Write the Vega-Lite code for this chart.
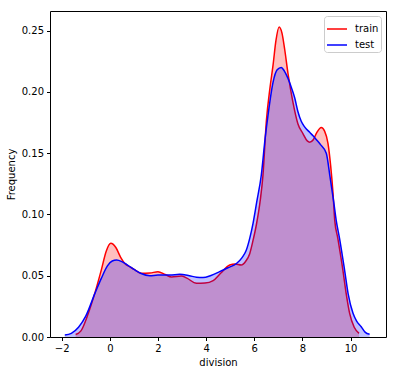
{
  "$schema": "https://vega.github.io/schema/vega-lite/v6.json",
  "width": 336,
  "height": 326,
  "autosize": "none",
  "padding": {"left": 50, "top": 11, "right": 9, "bottom": 38},
  "config": {
    "font": "DejaVu Sans",
    "view": {"stroke": "#000", "strokeWidth": 1},
    "axis": {
      "grid": false,
      "domain": false,
      "labelFontSize": 10,
      "labelColor": "#000",
      "tickColor": "#000",
      "tickSize": 3.5,
      "labelPadding": 3,
      "titleFontSize": 10,
      "titleFontWeight": "normal",
      "titleColor": "#000"
    },
    "legend": {
      "labelFontSize": 10,
      "labelColor": "#000"
    }
  },
  "datasets": {
    "kde": [
      {"series": "train", "x": -1.42, "y": 0.002},
      {"series": "train", "x": -1.2, "y": 0.005},
      {"series": "train", "x": -0.9, "y": 0.019},
      {"series": "train", "x": -0.62, "y": 0.036},
      {"series": "train", "x": -0.35, "y": 0.055},
      {"series": "train", "x": -0.15, "y": 0.07},
      {"series": "train", "x": 0.04, "y": 0.0764},
      {"series": "train", "x": 0.25, "y": 0.073},
      {"series": "train", "x": 0.45, "y": 0.065},
      {"series": "train", "x": 0.62, "y": 0.06},
      {"series": "train", "x": 0.85, "y": 0.057},
      {"series": "train", "x": 1.04, "y": 0.0547},
      {"series": "train", "x": 1.3, "y": 0.052},
      {"series": "train", "x": 1.66, "y": 0.0522},
      {"series": "train", "x": 2.0, "y": 0.0533},
      {"series": "train", "x": 2.3, "y": 0.051},
      {"series": "train", "x": 2.56, "y": 0.049},
      {"series": "train", "x": 2.97, "y": 0.0497},
      {"series": "train", "x": 3.2, "y": 0.048},
      {"series": "train", "x": 3.6, "y": 0.0438},
      {"series": "train", "x": 3.95, "y": 0.044},
      {"series": "train", "x": 4.29, "y": 0.046},
      {"series": "train", "x": 4.6, "y": 0.052},
      {"series": "train", "x": 4.98, "y": 0.0587},
      {"series": "train", "x": 5.2, "y": 0.0595},
      {"series": "train", "x": 5.46, "y": 0.0587},
      {"series": "train", "x": 5.65, "y": 0.062},
      {"series": "train", "x": 5.81, "y": 0.068},
      {"series": "train", "x": 5.95, "y": 0.079},
      {"series": "train", "x": 6.09, "y": 0.092},
      {"series": "train", "x": 6.25, "y": 0.112},
      {"series": "train", "x": 6.36, "y": 0.132},
      {"series": "train", "x": 6.5, "y": 0.176},
      {"series": "train", "x": 6.65, "y": 0.203},
      {"series": "train", "x": 6.78, "y": 0.222},
      {"series": "train", "x": 6.9, "y": 0.242},
      {"series": "train", "x": 7.03, "y": 0.253},
      {"series": "train", "x": 7.15, "y": 0.248},
      {"series": "train", "x": 7.26, "y": 0.235},
      {"series": "train", "x": 7.4, "y": 0.215},
      {"series": "train", "x": 7.6, "y": 0.192},
      {"series": "train", "x": 7.81, "y": 0.174},
      {"series": "train", "x": 8.02, "y": 0.166},
      {"series": "train", "x": 8.2, "y": 0.16},
      {"series": "train", "x": 8.3, "y": 0.159},
      {"series": "train", "x": 8.45, "y": 0.161},
      {"series": "train", "x": 8.6, "y": 0.167},
      {"series": "train", "x": 8.78, "y": 0.171},
      {"series": "train", "x": 8.92, "y": 0.168},
      {"series": "train", "x": 9.06, "y": 0.158},
      {"series": "train", "x": 9.17, "y": 0.14},
      {"series": "train", "x": 9.27, "y": 0.117},
      {"series": "train", "x": 9.34, "y": 0.0954},
      {"series": "train", "x": 9.47, "y": 0.0805},
      {"series": "train", "x": 9.68, "y": 0.0546},
      {"series": "train", "x": 9.82, "y": 0.035},
      {"series": "train", "x": 9.96, "y": 0.0193},
      {"series": "train", "x": 10.15, "y": 0.008},
      {"series": "train", "x": 10.35, "y": 0.003},
      {"series": "test", "x": -1.87, "y": 0.0016},
      {"series": "test", "x": -1.6, "y": 0.003},
      {"series": "test", "x": -1.3, "y": 0.008},
      {"series": "test", "x": -1.0, "y": 0.017},
      {"series": "test", "x": -0.62, "y": 0.0356},
      {"series": "test", "x": -0.35, "y": 0.048},
      {"series": "test", "x": -0.1, "y": 0.058},
      {"series": "test", "x": 0.1, "y": 0.062},
      {"series": "test", "x": 0.28, "y": 0.0628},
      {"series": "test", "x": 0.5, "y": 0.0615},
      {"series": "test", "x": 0.75, "y": 0.0585},
      {"series": "test", "x": 1.04, "y": 0.0547},
      {"series": "test", "x": 1.3, "y": 0.0518},
      {"series": "test", "x": 1.66, "y": 0.05},
      {"series": "test", "x": 2.0, "y": 0.0505},
      {"series": "test", "x": 2.5, "y": 0.0505},
      {"series": "test", "x": 2.9, "y": 0.0511},
      {"series": "test", "x": 3.3, "y": 0.05},
      {"series": "test", "x": 3.6, "y": 0.0488},
      {"series": "test", "x": 3.87, "y": 0.0485},
      {"series": "test", "x": 4.2, "y": 0.0502},
      {"series": "test", "x": 4.56, "y": 0.0533},
      {"series": "test", "x": 4.9, "y": 0.0565},
      {"series": "test", "x": 5.26, "y": 0.06},
      {"series": "test", "x": 5.5, "y": 0.065},
      {"series": "test", "x": 5.67, "y": 0.071},
      {"series": "test", "x": 5.81, "y": 0.0805},
      {"series": "test", "x": 5.95, "y": 0.093},
      {"series": "test", "x": 6.1, "y": 0.11},
      {"series": "test", "x": 6.29, "y": 0.132},
      {"series": "test", "x": 6.45, "y": 0.162},
      {"series": "test", "x": 6.57, "y": 0.181},
      {"series": "test", "x": 6.78, "y": 0.208},
      {"series": "test", "x": 6.95, "y": 0.218},
      {"series": "test", "x": 7.12, "y": 0.22},
      {"series": "test", "x": 7.25, "y": 0.217},
      {"series": "test", "x": 7.4, "y": 0.211},
      {"series": "test", "x": 7.55, "y": 0.203},
      {"series": "test", "x": 7.68, "y": 0.195},
      {"series": "test", "x": 7.81, "y": 0.184},
      {"series": "test", "x": 7.95, "y": 0.176},
      {"series": "test", "x": 8.09, "y": 0.1715},
      {"series": "test", "x": 8.3, "y": 0.167},
      {"series": "test", "x": 8.45, "y": 0.164},
      {"series": "test", "x": 8.58, "y": 0.161},
      {"series": "test", "x": 8.75, "y": 0.157},
      {"series": "test", "x": 8.99, "y": 0.15},
      {"series": "test", "x": 9.15, "y": 0.13},
      {"series": "test", "x": 9.3, "y": 0.11},
      {"series": "test", "x": 9.4, "y": 0.0954},
      {"series": "test", "x": 9.54, "y": 0.0805},
      {"series": "test", "x": 9.75, "y": 0.0546},
      {"series": "test", "x": 9.9, "y": 0.035},
      {"series": "test", "x": 10.1, "y": 0.0193},
      {"series": "test", "x": 10.25, "y": 0.013},
      {"series": "test", "x": 10.44, "y": 0.0084},
      {"series": "test", "x": 10.6, "y": 0.004},
      {"series": "test", "x": 10.79, "y": 0.0022}
    ]
  },
  "data": {"name": "kde"},
  "encoding": {
    "x": {
      "field": "x", "type": "quantitative", "title": "division",
      "scale": {"domain": [-2.485, 11.47], "nice": false, "zero": false},
      "axis": {"values": [-2, 0, 2, 4, 6, 8, 10], "titlePadding": 4}
    },
    "y": {
      "field": "y", "type": "quantitative", "title": "Frequency", "stack": null,
      "scale": {"domain": [0, 0.266], "nice": false},
      "axis": {"values": [0, 0.05, 0.1, 0.15, 0.2, 0.25], "format": ".2f", "titlePadding": 5}
    },
    "color": {
      "field": "series", "type": "nominal",
      "scale": {"domain": ["train", "test"], "range": ["#ff0000", "#0000ff"]},
      "legend": {
        "title": null,
        "orient": "top-right",
        "offset": 5,
        "symbolType": "stroke",
        "symbolSize": 400,
        "symbolStrokeWidth": 1.5,
        "symbolOpacity": 1,
        "labelOffset": 7,
        "padding": 2,
        "rowPadding": -5,
        "fillColor": "#ffffff",
        "strokeColor": "#cccccc",
        "cornerRadius": 3
      }
    }
  },
  "layer": [
    {"transform": [{"filter": "datum.series === 'train'"}], "mark": {"type": "area", "fillOpacity": 0.25, "interpolate": "monotone"}},
    {"transform": [{"filter": "datum.series === 'train'"}], "mark": {"type": "line", "strokeWidth": 1.5, "interpolate": "monotone"}, "encoding": {"order": {"field": "x", "type": "quantitative"}}},
    {"transform": [{"filter": "datum.series === 'test'"}], "mark": {"type": "area", "fillOpacity": 0.25, "interpolate": "monotone"}},
    {"transform": [{"filter": "datum.series === 'test'"}], "mark": {"type": "line", "strokeWidth": 1.5, "interpolate": "monotone"}, "encoding": {"order": {"field": "x", "type": "quantitative"}}}
  ]
}
